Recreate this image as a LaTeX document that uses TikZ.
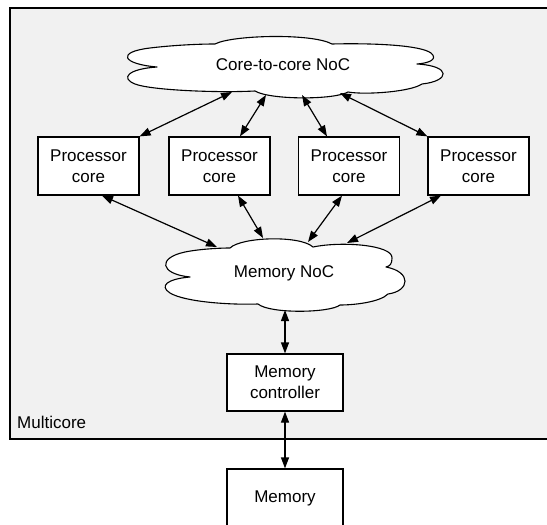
\documentclass[tikz,border=0pt]{standalone}
\usepackage{fontspec}
\setmainfont{Liberation Sans}
\usetikzlibrary{arrows.meta}
\definecolor{panel}{HTML}{F1F1F1}
\tikzset{
  every node/.style={font=\fontsize{17}{21}\selectfont, align=center},
  box/.style={draw, fill=white, line width=1.2pt, minimum width=101pt, minimum height=58pt, inner sep=0pt},
  cloudline/.style={draw, fill=white, line width=1.1pt, line join=round},
  label/.style={inner sep=0pt},
  link/.style={line width=1.2pt, {Triangle[length=11pt,width=8pt]}-{Triangle[length=11pt,width=8pt]}},
  container/.style={draw, fill=panel, line width=1.1pt, inner sep=0pt}
}
\begin{document}
\begin{tikzpicture}[x=1pt,y=-1pt]
\useasboundingbox (0,0) rectangle (547,525);
\clip (0,0) rectangle (547,525);
\node[container, minimum width=542pt, minimum height=431pt] (multicore) at (281,223.5) {};
\node[anchor=west, inner sep=0pt] (mclabel) at (17,422) {Multicore};
% core-to-core cloud
\path[cloudline] (157,67) .. controls (122,64) and (116,52) .. (150,48)
  .. controls (175,45) and (200,44) .. (215,44)
  .. controls (232,35) and (312,33) .. (332,44)
  .. controls (372,43) and (420,45) .. (431,53)
  .. controls (438,59) and (430,63) .. (417,64)
  .. controls (452,66) and (450,81) .. (422,84)
  .. controls (410,92) and (365,95) .. (348,92)
  .. controls (334,100) and (270,100) .. (255,91)
  .. controls (215,93) and (150,90) .. (135,84)
  .. controls (120,78) and (128,69) .. (157,67) -- cycle;
\node[label] (c2c) at (283,64.5) {Core-to-core NoC};
% memory NoC cloud
\path[cloudline] (190,277) .. controls (160,274) and (157,258) .. (185,252)
  .. controls (200,249) and (220,248) .. (230,248)
  .. controls (241,237) and (300,235) .. (313,247)
  .. controls (342,241) and (393,245) .. (392,258)
  .. controls (392,264) and (390,266) .. (386,267)
  .. controls (412,272) and (410,291) .. (388,294)
  .. controls (380,302) and (355,305) .. (340,305)
  .. controls (330,313) and (270,314) .. (258,304)
  .. controls (230,305) and (185,302) .. (170,293)
  .. controls (159,286) and (167,279) .. (190,277) -- cycle;
\node[label] (mnoc) at (284,273) {Memory NoC};
\node[box] (p1) at (88.5,166) {Processor\\core};
\node[box] (p2) at (219.5,166) {Processor\\core};
\node[box] (p3) at (349,166) {Processor\\core};
\node[box] (p4) at (478.5,166) {Processor\\core};
\node[box, minimum width=116pt, minimum height=57pt] (mc) at (285,382.5) {Memory\\controller};
\node[box, minimum width=116pt, minimum height=58pt] (mem) at (285,498) {Memory};
% top links
\draw[link] (p1.north east) -- ([shift={(-51,27.5)}]c2c.center);
\draw[link] ([xshift=20.5pt]p2.north) -- ([shift={(-17,30.5)}]c2c.center);
\draw[link] ([xshift=-22pt]p3.north) -- ([shift={(19,30.5)}]c2c.center);
\draw[link] (p4.north west) -- ([shift={(57,28.5)}]c2c.center);
% bottom links
\draw[link] ([xshift=13.5pt]p1.south) -- ([shift={(-67,-26)}]mnoc.center);
\draw[link] ([xshift=18.5pt]p2.south) -- ([shift={(-21,-35)}]mnoc.center);
\draw[link] ([xshift=-7pt]p3.south) -- ([shift={(24,-31)}]mnoc.center);
\draw[link] ([xshift=-37.5pt]p4.south) -- ([shift={(63,-30)}]mnoc.center);
% memory path
\draw[link] ([shift={(1,37)}]mnoc.center) -- (mc.north);
\draw[link] (mc.south) -- (mem.north);
\end{tikzpicture}
\end{document}
